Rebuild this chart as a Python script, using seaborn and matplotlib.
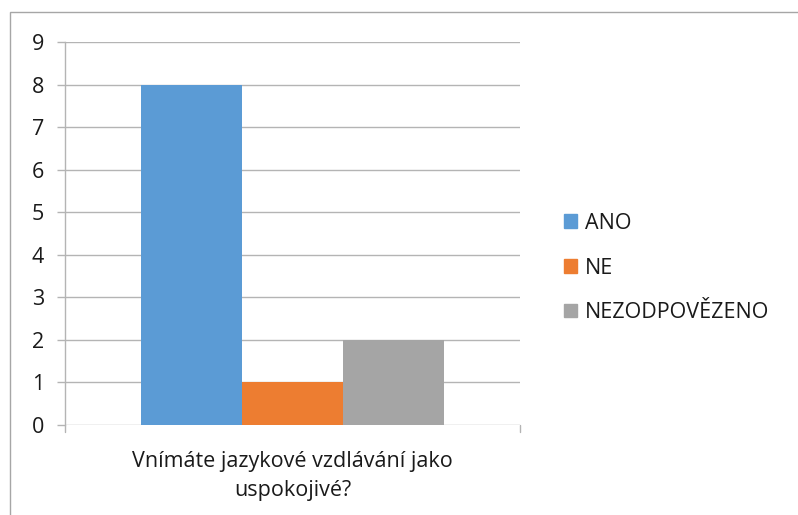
import matplotlib
matplotlib.use("Agg")
import matplotlib.pyplot as plt
import matplotlib.patches as mpatches
import seaborn as sns
import pandas as pd

# data
question = "Vnímáte jazykové vzdlávání jako\nuspokojivé?"
answers = ["ANO", "NE", "NEZODPOVĚZENO"]
counts = [8, 1, 2]
colors = ["#5B9BD5", "#ED7D31", "#A5A5A5"]

sns.set_theme(style="white")
plt.rcParams["font.family"] = ["Open Sans", "DejaVu Sans"]

df = pd.DataFrame({"question": [question] * len(answers),
                   "answer": answers,
                   "count": counts})

fig = plt.figure(figsize=(7.98, 5.15), dpi=100)
ax = fig.add_axes([65 / 798, 1 - 425 / 515, 455 / 798, 383 / 515])

sns.barplot(data=df, x="question", y="count", hue="answer",
            palette=colors, width=0.666, saturation=1, ax=ax)

ax.set_xlim(-0.5, 0.5)
ax.set_ylim(0, 9)
ax.set_yticks(range(0, 10))
ax.yaxis.grid(True, color="#B4B4B4", linewidth=1)
ax.set_axisbelow(True)
for b in ax.patches:
    b.set_edgecolor("none")

for s in ["top", "right", "bottom"]:
    ax.spines[s].set_visible(False)
ax.spines["left"].set_color("#B4B4B4")
ax.spines["left"].set_linewidth(1)
ax.tick_params(axis="y", direction="out", length=6, color="#B4B4B4",
               width=1, left=True, labelsize=15.5, pad=9)
ax.tick_params(axis="x", bottom=False, labelsize=15.5, pad=13)
ax.set_xlabel("")
ax.set_ylabel("")
ax.set_xticks([0])
ax.set_xticklabels([question], linespacing=1.5)
for lab in ax.get_xticklabels():
    lab.set_color("#1a1a1a")
for lab in ax.get_yticklabels():
    lab.set_color("#1a1a1a")

# small ticks at the bottom corners of the axis
ax.plot([-0.5, -0.5], [0, -0.17], color="#B4B4B4", lw=1, clip_on=False)
ax.plot([0.5, 0.5], [0, -0.17], color="#B4B4B4", lw=1, clip_on=False)

handles = [mpatches.Patch(color=c, label=a) for a, c in zip(answers, colors)]
ax.get_legend().remove()
fig.legend(handles=handles, loc="center left", bbox_to_anchor=(545 / 798, 1 - 268 / 515),
           frameon=False, fontsize=15.5, handlelength=0.6, handleheight=0.6,
           handletextpad=0.35, labelspacing=1.1, labelcolor="#1a1a1a")

# chart frame
fig.add_artist(mpatches.Rectangle((10 / 798, -0.1), 1.2, 1 - 12 / 515 + 0.1,
                                  transform=fig.transFigure, fill=False,
                                  edgecolor="#A6A6A6", linewidth=1))

fig.savefig("out.png", dpi=100)
